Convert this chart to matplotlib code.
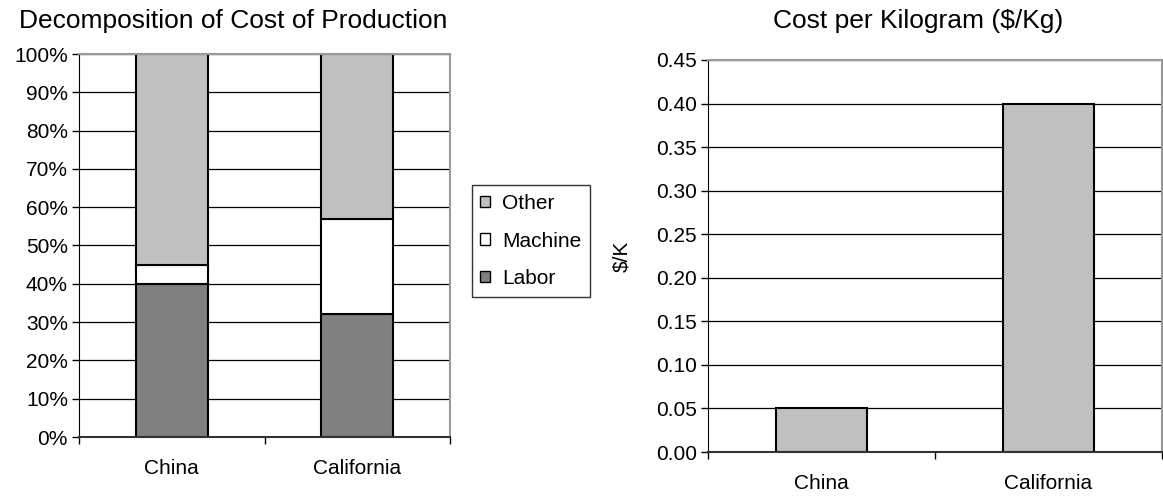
import numpy as np
import matplotlib
matplotlib.use("Agg")
import matplotlib.pyplot as plt
from matplotlib.patches import Patch
from matplotlib.ticker import FixedLocator, PercentFormatter

plt.rcParams['font.family'] = ['Liberation Sans', 'DejaVu Sans']

# data
regions = ["China", "California"]
labor = [40, 32]
machine = [5, 25]
other = [55, 43]
cost_per_kg = [0.05, 0.40]

c_other = "#c0c0c0"
c_machine = "#ffffff"
c_labor = "#808080"

W, H = 1163, 498
fig = plt.figure(figsize=(W / 100, H / 100), dpi=100)


def box(l, t, r, b):
    return [l / W, 1 - b / H, (r - l) / W, (b - t) / H]


def style_axes(ax):
    ax.set_xlim(-0.5, 1.5)
    ax.set_xticks(range(len(regions)))
    ax.set_xticklabels(regions, fontsize=15)
    ax.tick_params(axis='x', length=0, pad=16)
    ax.xaxis.set_minor_locator(FixedLocator([-0.5, 0.5, 1.5]))
    ax.tick_params(axis='x', which='minor', length=5, width=1, color='black')
    ax.tick_params(axis='y', length=5, width=1, direction='out', labelsize=15, pad=3)
    ax.grid(axis='y', color='black', linewidth=0.9)
    ax.set_axisbelow(True)
    ax.spines['left'].set_color('black')
    ax.spines['bottom'].set_color('#333333')
    ax.spines['bottom'].set_linewidth(1.5)
    for s in ('top', 'right'):
        ax.spines[s].set_color('#9a9a9a')
        ax.spines[s].set_linewidth(1.5)


# stacked percentage bars
ax1 = fig.add_axes(box(79, 54, 450, 437))
x = np.arange(len(regions))
bw = 0.39
ax1.bar(x, labor, bw, color=c_labor, edgecolor='black', linewidth=1.5, label='Labor')
ax1.bar(x, machine, bw, bottom=labor, color=c_machine, edgecolor='black', linewidth=1.5, label='Machine')
ax1.bar(x, other, bw, bottom=np.add(labor, machine), color=c_other, edgecolor='black',
        linewidth=1.5, label='Other')
ax1.set_ylim(0, 100)
ax1.set_yticks(np.arange(0, 101, 10))
ax1.yaxis.set_major_formatter(PercentFormatter(decimals=0))
style_axes(ax1)

fig.text(19 / W, 1 - 21 / H, "Decomposition of Cost of Production", fontsize=19,
         ha='left', va='center')

handles = [Patch(facecolor=c_other, edgecolor='black', label='Other'),
           Patch(facecolor=c_machine, edgecolor='black', label='Machine'),
           Patch(facecolor=c_labor, edgecolor='black', label='Labor')]
leg = fig.legend(handles=handles, loc='center left', bbox_to_anchor=(472 / W, 1 - 241 / H),
                 fontsize=15, frameon=True, fancybox=False, handlelength=0.45, handleheight=0.45,
                 handletextpad=0.6, labelspacing=0.9, borderpad=0.4, borderaxespad=0)
leg.get_frame().set_edgecolor('black')
leg.get_frame().set_linewidth(1.0)

# cost per kilogram
ax2 = fig.add_axes(box(708, 60, 1162, 452))
ax2.bar(x, cost_per_kg, 0.4, color=c_other, edgecolor='black', linewidth=1.5)
ax2.set_ylim(0, 0.45)
ax2.set_yticks(np.arange(0, 0.451, 0.05))
ax2.yaxis.set_major_formatter(plt.FormatStrFormatter('%.2f'))
style_axes(ax2)
ax2.set_ylabel("$/K", fontsize=15, labelpad=18)

fig.text(918 / W, 1 - 21 / H, "Cost per Kilogram ($/Kg)", fontsize=19, ha='center', va='center')

fig.savefig("out.png", dpi=100)
